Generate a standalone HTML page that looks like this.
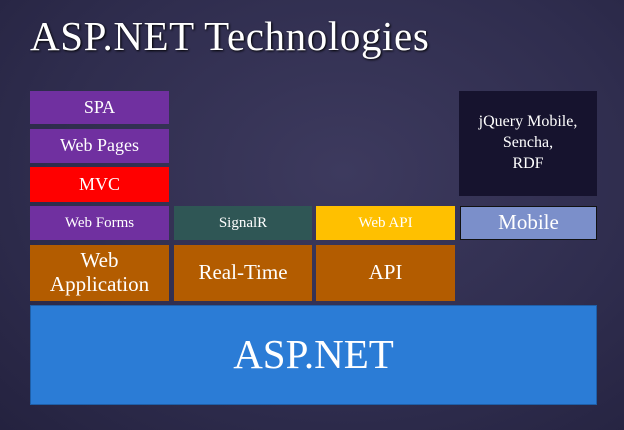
<!DOCTYPE html>
<html><head><meta charset="utf-8"><style>
body{margin:0;width:624px;height:430px;overflow:hidden;background:radial-gradient(ellipse at 55% 40%,#3d3a5e 0%,#2f2d4e 60%,#24223f 100%);font-family:"Liberation Serif",serif;position:relative}
.b{position:absolute;display:flex;align-items:center;justify-content:center;text-align:center;color:#fff;box-sizing:border-box;line-height:1.1}
h1{position:absolute;left:30px;top:12px;margin:0;font-weight:normal;font-size:41px;color:#fff;text-shadow:1px 1px 2px #000;letter-spacing:0.6px;line-height:48px}
</style></head><body>
<h1>ASP.NET Technologies</h1>
<div class="b" style="left:30px;top:91px;width:139px;height:33px;background:#7030a0;font-size:18px">SPA</div>
<div class="b" style="left:30px;top:129px;width:139px;height:34px;background:#7030a0;font-size:18px">Web Pages</div>
<div class="b" style="left:30px;top:167px;width:139px;height:35px;background:#ff0000;font-size:18px">MVC</div>
<div class="b" style="left:30px;top:206px;width:139px;height:34px;background:#7030a0;font-size:15px">Web Forms</div>
<div class="b" style="left:174px;top:206px;width:138px;height:34px;background:#2f5655;font-size:15px">SignalR</div>
<div class="b" style="left:316px;top:206px;width:139px;height:34px;background:#ffc000;font-size:15px">Web API</div>
<div class="b" style="left:460px;top:206px;width:137px;height:34px;background:#7b8fca;border:1.5px solid #111;font-size:21px">Mobile</div>
<div class="b" style="left:459px;top:91px;width:138px;height:105px;background:#16132e;font-size:16px;line-height:1.3">jQuery Mobile,<br>Sencha,<br>RDF</div>
<div class="b" style="left:30px;top:245px;width:139px;height:56px;background:#b35c00;font-size:21px;line-height:1.12">Web<br>Application</div>
<div class="b" style="left:174px;top:245px;width:138px;height:56px;background:#b35c00;font-size:21px">Real-Time</div>
<div class="b" style="left:316px;top:245px;width:139px;height:56px;background:#b35c00;font-size:21px">API</div>
<div class="b" style="left:30px;top:305px;width:567px;height:100px;background:#2b7cd6;border:1px solid #1f5fa8;font-size:41px">ASP.NET</div>
</body></html>
